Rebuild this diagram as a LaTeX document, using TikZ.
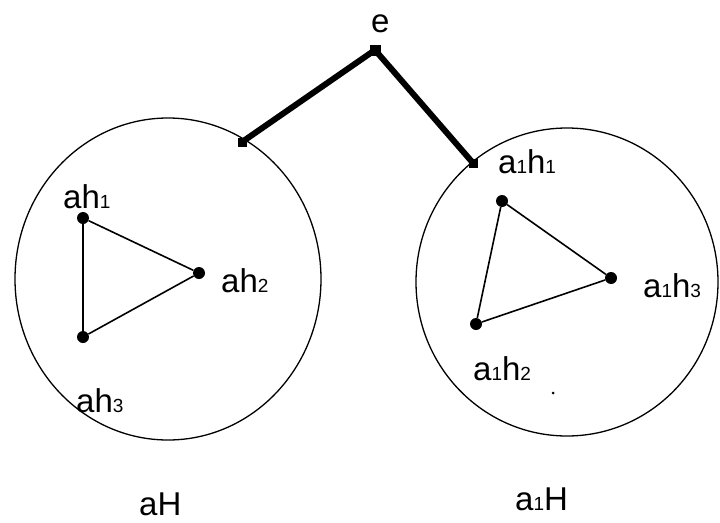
\documentclass[tikz,border=0pt]{standalone}
\usepackage{fontspec}
\setmainfont{Liberation Sans}
\usetikzlibrary{shapes.geometric}
\newcommand{\sbx}[1]{{\fontsize{19}{19}\selectfont #1}}
\begin{document}
\begin{tikzpicture}[x=1pt,y=-1pt,
  lbl/.style={anchor=base west,inner sep=0pt,font=\fontsize{33}{33}\selectfont},
  vdot/.style={circle,fill=black,inner sep=0pt,minimum size=12pt},
  edot/.style={rectangle,fill=black,inner sep=0pt,minimum size=9pt},
  coset/.style={draw=black,line width=1.3pt,ellipse,inner sep=0pt},
  thin/.style={line width=1.6pt},
  thickedge/.style={line width=6pt}]
\useasboundingbox (0,0) rectangle (720,522);
% cosets
\node[coset,minimum width=306pt,minimum height=322pt] (L) at (168,279) {};
\node[coset,minimum width=302pt,minimum height=308pt] (R) at (567,282) {};
% identity and connectors
\node[edot,minimum size=11pt] (e) at (375,50) {};
\node[edot] (l) at (242,142) {};
\node[edot] (r) at (473,163) {};
\draw[thickedge] (l.center) -- (e.center) -- (r.center);
% left triangle
\node[vdot] (ah1) at (83,218) {};
\node[vdot] (ah2) at (199,273) {};
\node[vdot] (ah3) at (83,337) {};
\draw[thin] (ah1) -- (ah2) -- (ah3) -- (ah1);
% right triangle
\node[vdot] (b1) at (502,201) {};
\node[vdot] (b3) at (611,278) {};
\node[vdot] (b2) at (476,324) {};
\draw[thin] (b1) -- (b3) -- (b2) -- (b1);
% small dot
\node[circle,fill=black,inner sep=0pt,minimum size=3pt] (sd) at (553,393) {};
% labels
\node[lbl] (te) at (371,32) {e};
\node[lbl] (tah1) at (63,208) {ah\sbx{1}};
\node[lbl] (tah2) at (221,292) {ah\sbx{2}};
\node[lbl] (tah3) at (76,412) {ah\sbx{3}};
\node[lbl] (tb1) at (498,173) {a\sbx{1}h\sbx{1}};
\node[lbl] (tb3) at (643,297) {a\sbx{1}h\sbx{3}};
\node[lbl] (tb2) at (473,380) {a\sbx{1}h\sbx{2}};
\node[lbl] (taH) at (139,515) {aH};
\node[lbl] (ta1H) at (515,510) {a\sbx{1}H};
\end{tikzpicture}
\end{document}
